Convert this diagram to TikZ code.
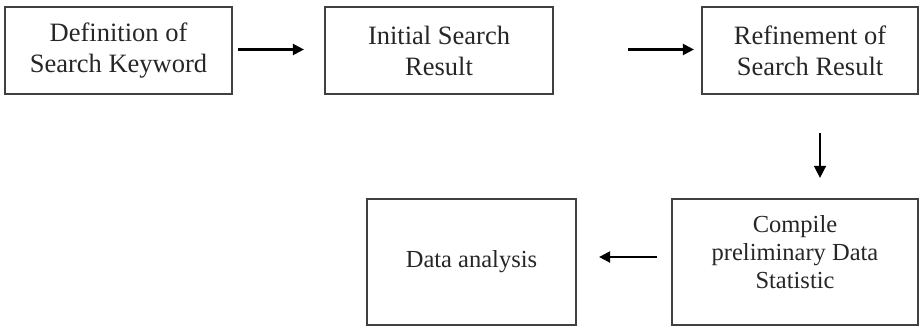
\documentclass[tikz,border=0pt]{standalone}
\usepackage{fontspec}
\setmainfont{Liberation Serif}
\usetikzlibrary{arrows.meta}
\begin{document}
\begin{tikzpicture}[x=1pt,y=-1pt,
  box/.style={draw=black!75,line width=2.2pt,rectangle,align=center,inner sep=0pt,
    font=\fontsize{26.5}{31}\selectfont,text=black!85},
  lowbox/.style={box,font=\fontsize{24.5}{28}\selectfont},
  arr/.style={draw=black,line width=2.2pt,-{Triangle[length=11pt,width=11pt]}}]
\useasboundingbox (0,0) rectangle (923,327);
\node[box,minimum width=227pt,minimum height=87pt] (b1) at (118.5,50.5) {Definition of\\Search Keyword};
\node[box,minimum width=228pt,minimum height=87pt] (b2) at (439,50.5) {Initial Search\\Result};
\node[box,minimum width=216pt,minimum height=87pt] (b3) at (810,50.5) {Refinement of\\Search Result};
\node[lowbox,minimum width=246pt,minimum height=126pt] (b4) at (795,262) {Compile\\preliminary Data\\Statistic\rule[-20pt]{0pt}{0pt}};
\node[lowbox,minimum width=209pt,minimum height=126pt] (b5) at (471.5,262) {Data analysis};
\draw[arr,shorten <=5pt,shorten >=20pt] ([yshift=1pt]b1.east) -- ([yshift=1pt]b2.west);
\draw[arr,shorten <=74pt,shorten >=7pt] ([yshift=1pt]b2.east) -- ([yshift=1pt]b3.west);
\draw[arr,line width=1.5pt,-{Triangle[length=12pt,width=12pt]}] ([xshift=10pt,yshift=-38pt]b3.south) -- ([xshift=25pt,yshift=20pt]b4.north);
\draw[arr,shorten <=14pt,shorten >=22pt] ([yshift=5pt]b4.west) -- ([yshift=5pt]b5.east);
\end{tikzpicture}
\end{document}
